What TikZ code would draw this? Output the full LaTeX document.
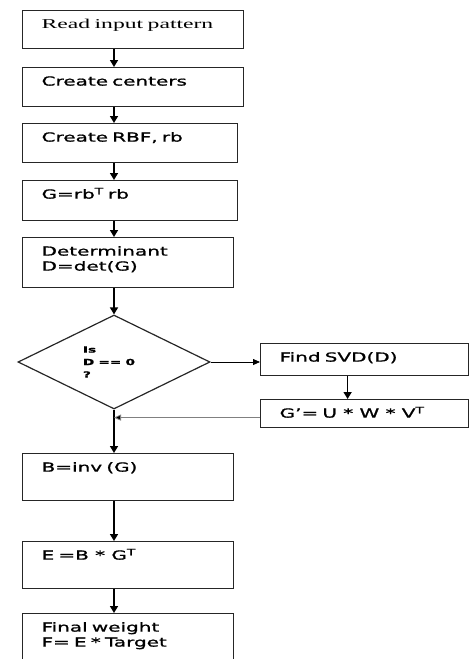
\documentclass[tikz,border=0pt]{standalone}
\usepackage{fontspec}
\setmainfont{DejaVu Sans}[FakeStretch=1.6, FakeBold=1.2]
\newfontfamily\readfont{Liberation Serif}[FakeStretch=1.75]
\usetikzlibrary{shapes.geometric,arrows.meta}

\tikzset{
	stage/.style 2 args={draw=black!85, line width=1.2pt, anchor=north west,
		inner xsep=19pt, inner ysep=0pt, align=left, text height=18pt,
		text width=#1, text depth=#2, font=\fontsize{12.5}{15}\selectfont},
	decision/.style={diamond, draw=black!85, line width=1.2pt, aspect=2,
		minimum width=192pt, minimum height=94pt, inner sep=0pt,
		text width=62pt, align=left, font=\bfseries\fontsize{8.5}{12.5}\selectfont},
	flow/.style={line width=1.6pt, -{Triangle[width=8pt,length=7pt]}},
	thinflow/.style={line width=0.8pt, -{Triangle[width=6pt,length=7pt]}}
}

\begin{document}
\begin{tikzpicture}[x=1pt,y=-1pt]
	\clip (0,0) rectangle (470,659);
	% main column
	\node[stage={183pt}{20pt}, font=\readfont\fontsize{13.5}{15}\selectfont] (read) at (22,10) {Read input pattern};
	\node[stage={183pt}{21pt}] (centers) at (22,67) {Create centers};
	\node[stage={177pt}{21pt}] (rbf) at (22,123) {Create RBF, rb};
	\node[stage={177pt}{22pt}] (gram) at (22,180) {G=rb\textsuperscript{T} rb};
	\node[stage={173pt}{32pt}] (det) at (22,237) {Determinant\\D=det(G)};
	\node[decision] (dec) at (114,362) {Is\\D\enspace==\enspace0\\?};
	\node[stage={173pt}{29pt}] (inv) at (22,453) {B=inv (G)};
	\node[stage={173pt}{29pt}] (eb) at (22,541) {E =B \,*\, G\textsuperscript{T}};
	\node[stage={173pt}{42pt}] (final) at (22,613) {Final weight\\F= E * Target};
	% branch
	\node[stage={170pt}{14pt}] (svd) at (260,343) {Find SVD(D)};
	\node[stage={170pt}{10pt}] (gprime) at (260,399) {G’= U\enspace*\enspace W\enspace*\enspace V\textsuperscript{T}};

	\foreach \a/\b in {read/centers, centers/rbf, rbf/gram, gram/det}
		\draw[flow] (\a.south -| dec) -- (\b.north -| dec);
	\draw[flow] (det.south -| dec) -- (dec.north);
	\draw[flow] (dec.south) -- (inv.north -| dec);
	\draw[flow] (inv.south -| dec) -- (eb.north -| dec);
	\draw[flow] (eb.south -| dec) -- (final.north -| dec);
	\draw[thinflow] (dec.east) -- (dec.east -| svd.west);
	\draw[flow] ([xshift=-17pt]svd.south) -- ([xshift=-17pt]gprime.north);
	\draw[gray, line width=0.8pt, -{Triangle[width=6pt,length=7pt,fill=black]}]
		([yshift=-4pt]gprime.west) -- ([yshift=-4pt]gprime.west -| dec);
\end{tikzpicture}
\end{document}
